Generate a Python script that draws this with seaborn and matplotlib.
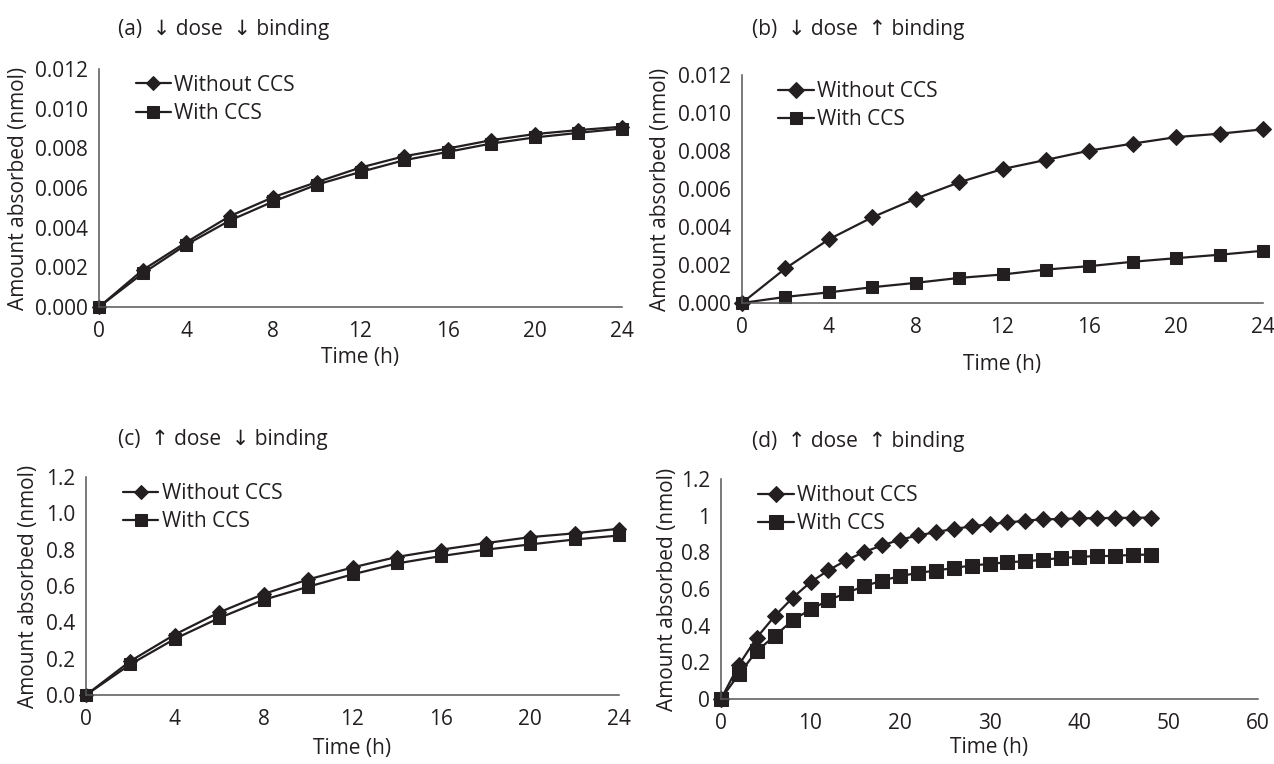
import matplotlib
matplotlib.use('Agg')

import numpy as np
import pandas as pd
import matplotlib.pyplot as plt
import seaborn as sns

# --- data ---
time_24 = [0, 2, 4, 6, 8, 10, 12, 14, 16, 18, 20, 22, 24]
time_48 = list(range(0, 50, 2))

a_without = [0.0, 0.00186, 0.00326, 0.00458, 0.00554, 0.00630, 0.00703, 0.00760, 0.00799, 0.00841, 0.00872, 0.00892, 0.00909]
a_with = [0.0, 0.00169, 0.00314, 0.00436, 0.00532, 0.00617, 0.00681, 0.00740, 0.00782, 0.00824, 0.00855, 0.00878, 0.00900]

b_without = [0.0, 0.00182, 0.00335, 0.00451, 0.00549, 0.00635, 0.00705, 0.00753, 0.00802, 0.00839, 0.00873, 0.00891, 0.00914]
b_with = [0.0, 0.00032, 0.00056, 0.00083, 0.00106, 0.00132, 0.00150, 0.00176, 0.00194, 0.00217, 0.00236, 0.00254, 0.00275]

c_without = [0.0, 0.187, 0.333, 0.455, 0.556, 0.636, 0.702, 0.760, 0.800, 0.836, 0.869, 0.890, 0.915]
c_with = [0.0, 0.169, 0.309, 0.424, 0.524, 0.596, 0.664, 0.724, 0.765, 0.800, 0.829, 0.856, 0.878]

d_without = [0.0, 0.186, 0.335, 0.452, 0.552, 0.637, 0.702, 0.757, 0.802, 0.838, 0.869, 0.892, 0.910,
             0.928, 0.941, 0.954, 0.963, 0.972, 0.981, 0.981, 0.986, 0.986, 0.988, 0.988, 0.990]
d_with = [0.0, 0.136, 0.262, 0.344, 0.429, 0.489, 0.538, 0.579, 0.615, 0.646, 0.670, 0.688, 0.700,
          0.715, 0.728, 0.737, 0.746, 0.751, 0.760, 0.769, 0.775, 0.780, 0.780, 0.787, 0.787]

titles = ["(a)  \u2193 dose  \u2193 binding", "(b)  \u2193 dose  \u2191 binding",
          "(c)  \u2191 dose  \u2193 binding", "(d)  \u2191 dose  \u2191 binding"]

ticks_24 = [0, 4, 8, 12, 16, 20, 24]
ticks_60 = [0, 10, 20, 30, 40, 50, 60]
yticks_small = [0.0, 0.002, 0.004, 0.006, 0.008, 0.010, 0.012]
yticks_big = [0.0, 0.2, 0.4, 0.6, 0.8, 1.0, 1.2]
ylabels_small = ["0.000", "0.002", "0.004", "0.006", "0.008", "0.010", "0.012"]
ylabels_c = ["0.0", "0.2", "0.4", "0.6", "0.8", "1.0", "1.2"]
ylabels_d = ["0", "0.2", "0.4", "0.6", "0.8", "1", "1.2"]

INK = "#231f20"
W, H = 1274, 764

sns.set_style("white")
plt.rcParams['font.family'] = ['Open Sans', 'DejaVu Sans']
plt.rcParams['font.size'] = 15
plt.rcParams['text.color'] = INK
plt.rcParams['axes.labelcolor'] = INK
plt.rcParams['xtick.color'] = INK
plt.rcParams['ytick.color'] = INK

fig = plt.figure(figsize=(W / 100, H / 100), dpi=100)


def px_axes(left, right, top, bottom):
    return fig.add_axes([left / W, 1 - bottom / H, (right - left) / W, (bottom - top) / H])


panels = [
    # axes box in pixels, data, ticks, title position, label placement, marker sizes
    dict(box=(99, 622, 69, 307), t=time_24, wo=a_without, wi=a_with, xt=ticks_24, xmax=24,
         yt=yticks_small, yl=ylabels_small, ymax=0.012, tpos=(118, 30), ylx=-0.134, xly=-0.168, ms=(7, 8)),
    dict(box=(742, 1263, 75, 303), t=time_24, wo=b_without, wi=b_with, xt=ticks_24, xmax=24,
         yt=yticks_small, yl=ylabels_small, ymax=0.012, tpos=(752, 30), ylx=-0.136, xly=-0.225, ms=(8, 9)),
    dict(box=(86, 619, 477, 695), t=time_24, wo=c_without, wi=c_with, xt=ticks_24, xmax=24,
         yt=yticks_big, yl=ylabels_c, ymax=1.2, tpos=(118, 439), ylx=-0.088, xly=-0.195, ms=(7, 8)),
    dict(box=(721, 1258, 479, 699), t=time_48, wo=d_without, wi=d_with, xt=ticks_60, xmax=60,
         yt=yticks_big, yl=ylabels_d, ymax=1.2, tpos=(752, 442), ylx=-0.080, xly=-0.175, ms=(8, 10)),
]

for p, title in zip(panels, titles):
    ax = px_axes(*p["box"])
    df = pd.DataFrame({"Time": p["t"], "Without CCS": p["wo"], "With CCS": p["wi"]})
    sns.lineplot(data=df, x="Time", y="Without CCS", ax=ax, color=INK, lw=1.6,
                 marker="D", markersize=p["ms"][0], markeredgecolor=INK, label="Without CCS", clip_on=False)
    sns.lineplot(data=df, x="Time", y="With CCS", ax=ax, color=INK, lw=1.6,
                 marker="s", markersize=p["ms"][1], markeredgecolor=INK, label="With CCS", clip_on=False)

    ax.set_xlim(0, p["xmax"])
    ax.set_ylim(0, p["ymax"])
    ax.set_xticks(p["xt"])
    ax.set_xticklabels([str(v) for v in p["xt"]])
    ax.set_yticks(p["yt"])
    ax.set_yticklabels(p["yl"])
    ax.tick_params(direction="out", length=5, width=1, labelsize=15)
    ax.tick_params(axis="x", pad=5)
    ax.tick_params(axis="y", pad=3)

    sns.despine(ax=ax)
    for s in ["left", "bottom"]:
        ax.spines[s].set_color("#555555")
        ax.spines[s].set_linewidth(1.1)

    ax.set_xlabel("Time (h)", fontsize=15)
    ax.set_ylabel("Amount absorbed (nmol)", fontsize=15)
    ax.yaxis.set_label_coords(p["ylx"], 0.5)
    ax.xaxis.set_label_coords(0.5, p["xly"])

    ax.legend(loc="upper left", frameon=False, fontsize=15, handlelength=1.7,
              handletextpad=0.15, labelspacing=0.35, borderaxespad=0.1,
              bbox_to_anchor=(0.05, 1.02))

    fig.text(p["tpos"][0] / W, 1 - p["tpos"][1] / H, title, fontsize=15, va="center", ha="left")

fig.savefig("out.png", dpi=100)
